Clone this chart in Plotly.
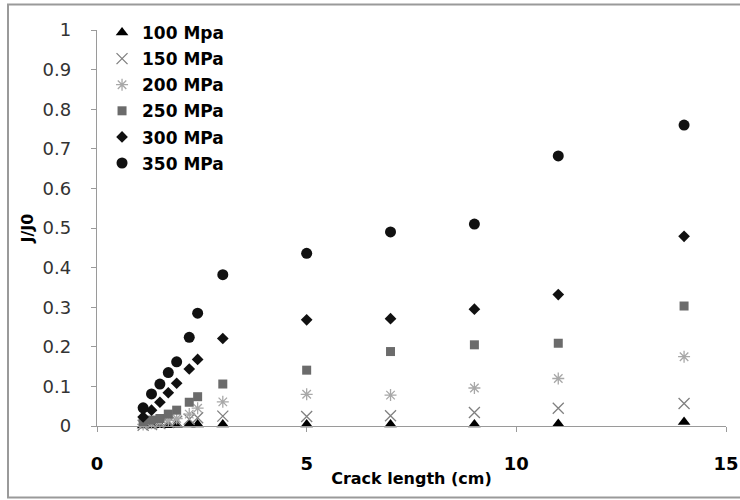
import plotly.graph_objects as go

crack_length = [1.1, 1.3, 1.5, 1.7, 1.9, 2.2, 2.4, 3, 5, 7, 9, 11, 14]

series_names = ["100 Mpa", "150 MPa", "200 MPa", "250 MPa", "300 MPa", "350 MPa"]
j100 = [0.001, 0.001, 0.002, 0.002, 0.003, 0.004, 0.004, 0.004, 0.004, 0.004, 0.004, 0.005, 0.01]
j150 = [0.002, 0.004, 0.006, 0.009, 0.012, 0.017, 0.021, 0.025, 0.024, 0.026, 0.034, 0.045, 0.057]
j200 = [0.004, 0.007, 0.010, 0.014, 0.019, 0.030, 0.045, 0.061, 0.080, 0.078, 0.096, 0.120, 0.175]
j250 = [0.011, 0.015, 0.019, 0.030, 0.040, 0.060, 0.074, 0.106, 0.141, 0.188, 0.205, 0.209, 0.303]
j300 = [0.023, 0.040, 0.060, 0.084, 0.108, 0.144, 0.168, 0.221, 0.268, 0.271, 0.295, 0.332, 0.479]
j350 = [0.046, 0.081, 0.106, 0.135, 0.162, 0.224, 0.285, 0.382, 0.436, 0.490, 0.510, 0.682, 0.760]

x_ticks = [0, 5, 10, 15]
y_ticks = [0, 0.1, 0.2, 0.3, 0.4, 0.5, 0.6, 0.7, 0.8, 0.9, 1]
y_tick_labels = ["0", "0.1", "0.2", "0.3", "0.4", "0.5", "0.6", "0.7", "0.8", "0.9", "1"]

styles = [
    dict(symbol="triangle-up", color="#000000", size=11, line=dict(width=0)),
    dict(symbol="x-thin-open", color="#808080", size=11, line=dict(width=1.3, color="#808080")),
    dict(symbol="asterisk-open", color="#a8a8a8", size=10, line=dict(width=1.3, color="#a8a8a8")),
    dict(symbol="square", color="#6b6b6b", size=9, line=dict(width=0)),
    dict(symbol="diamond", color="#111111", size=9, line=dict(width=0)),
    dict(symbol="circle", color="#111111", size=11, line=dict(width=0)),
]

font_family = "'DejaVu Sans', sans-serif"

fig = go.Figure()
for i, (name, ys) in enumerate(zip(series_names, [j100, j150, j200, j250, j300, j350])):
    fig.add_trace(go.Scatter(
        x=crack_length, y=ys, mode="markers", name=name,
        legendgroup=f"g{i}",
        marker=styles[i], cliponaxis=False,
    ))

fig.update_layout(
    width=740, height=500,
    margin=dict(l=97, r=14, t=30, b=74, autoexpand=False),
    paper_bgcolor="white", plot_bgcolor="white",
    font=dict(family=font_family, color="#000000"),
    showlegend=True,
    legend=dict(
        x=0.008, y=1.038, xanchor="left", yanchor="top",
        font=dict(size=17, weight="bold", family=font_family, color="#000000"),
        tracegroupgap=1, bgcolor="rgba(0,0,0,0)",
        itemwidth=30,
    ),
    xaxis=dict(
        range=[0, 15], tickvals=x_ticks, ticktext=[str(v) for v in x_ticks],
        automargin=False,
        showgrid=False, zeroline=False, showline=True, linecolor="#9a9a9a", linewidth=1.3,
        ticks="outside", ticklen=5, tickcolor="#9a9a9a",
        tickfont=dict(size=18, weight="bold", color="#000000"),
        ticklabelstandoff=16,
        title=dict(text="Crack length (cm)", font=dict(size=16, weight="bold"), standoff=0),
    ),
    yaxis=dict(
        range=[0, 1], tickvals=y_ticks, ticktext=y_tick_labels,
        automargin=False,
        showgrid=False, zeroline=False, showline=True, linecolor="#9a9a9a", linewidth=1.3,
        ticks="outside", ticklen=5, tickcolor="#9a9a9a",
        tickfont=dict(size=18, color="#333333"),
        ticklabelstandoff=16,
        title=dict(text="J/J0", font=dict(size=16, weight="bold"), standoff=5),
    ),
    shapes=[dict(
        type="rect", xref="paper", yref="paper",
        x0=(8 - 97) / 629, x1=(760 - 97) / 629,
        y0=(426 - 497.5) / 396, y1=(426 - 4.5) / 396,
        line=dict(color="#9a9a9a", width=2), fillcolor="rgba(0,0,0,0)", layer="below",
    )],
)

fig.write_html("out.html")
